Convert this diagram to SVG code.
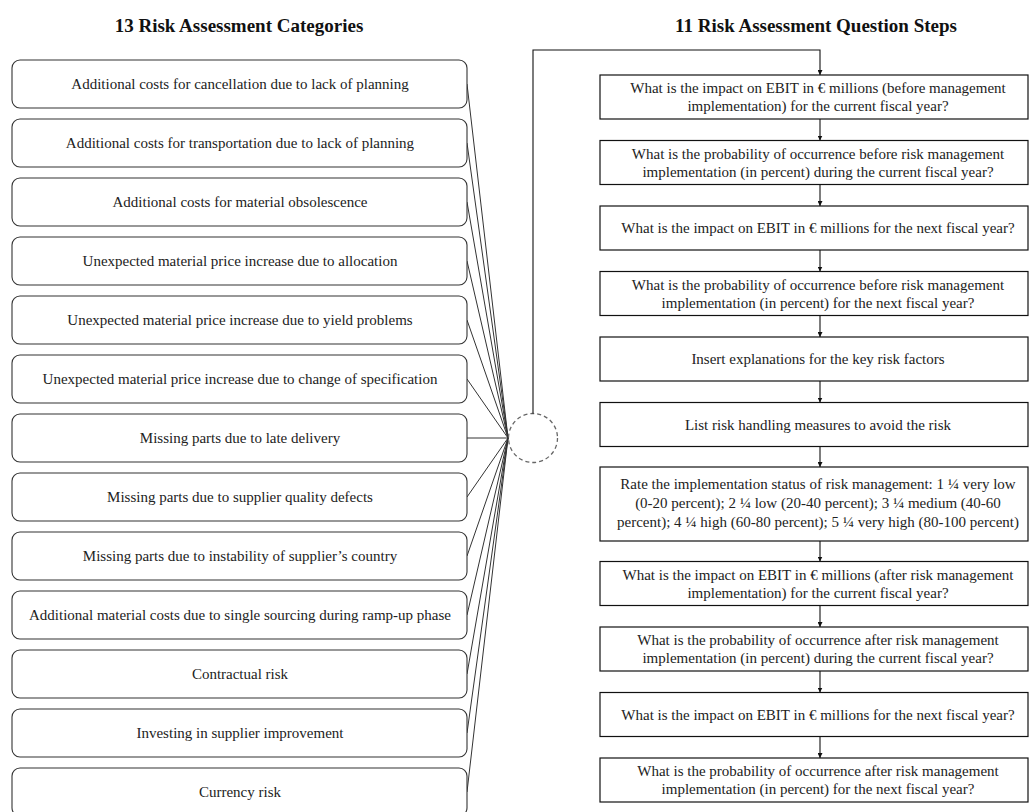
<svg xmlns="http://www.w3.org/2000/svg" width="1030" height="812" viewBox="0 0 1030 812">
  <style>
    .title { font-family: "Liberation Serif", "Times New Roman", serif; font-size: 19px; font-weight: bold; fill: #111; text-anchor: middle; }
    .cat rect { fill: #fff; stroke: #333; stroke-width: 1.1; }
    .step rect { fill: #fff; stroke: #111; stroke-width: 1.2; }
    .lbl { font-family: "Liberation Serif", "Times New Roman", serif; font-size: 15px; fill: #222; text-anchor: middle; }
    .fan { stroke: #333; stroke-width: 1; fill: none; }
    .flow { stroke: #111; stroke-width: 1.1; fill: none; }
    .hub { fill: none; stroke: #666; stroke-width: 1.3; stroke-dasharray: 4 3; }
  </style>
  <defs>
    <marker id="arrow" viewBox="0 0 8 8" refX="8" refY="4" markerWidth="5" markerHeight="5" orient="auto" markerUnits="userSpaceOnUse">
      <path d="M0,0 L8,4 L0,8 z" fill="#111"/>
    </marker>
  </defs>

  <text class="title" x="239" y="32">13 Risk Assessment Categories</text>
  <text class="title" x="816" y="32">11 Risk Assessment Question Steps</text>

  <!-- connectors: category fan-in, loop back to the first step, step chain -->
  <g id="connectors">
    <line class="fan" x1="467" y1="84" x2="508" y2="438"/>
    <line class="fan" x1="467" y1="143" x2="508" y2="438"/>
    <line class="fan" x1="467" y1="202" x2="508" y2="438"/>
    <line class="fan" x1="467" y1="261" x2="508" y2="438"/>
    <line class="fan" x1="467" y1="320" x2="508" y2="438"/>
    <line class="fan" x1="467" y1="379" x2="508" y2="438"/>
    <line class="fan" x1="467" y1="438" x2="508" y2="438"/>
    <line class="fan" x1="467" y1="497" x2="508" y2="438"/>
    <line class="fan" x1="467" y1="556" x2="508" y2="438"/>
    <line class="fan" x1="467" y1="615" x2="508" y2="438"/>
    <line class="fan" x1="467" y1="674" x2="508" y2="438"/>
    <line class="fan" x1="467" y1="733" x2="508" y2="438"/>
    <line class="fan" x1="467" y1="792" x2="508" y2="438"/>
    <circle class="hub" cx="533" cy="438" r="24.5"/>
    <path class="flow" d="M533,413.5 V50 H820 V75" marker-end="url(#arrow)"/>
    <line class="flow" x1="820" y1="119" x2="820" y2="140.5" marker-end="url(#arrow)"/>
    <line class="flow" x1="820" y1="184.5" x2="820" y2="206" marker-end="url(#arrow)"/>
    <line class="flow" x1="820" y1="250" x2="820" y2="271.5" marker-end="url(#arrow)"/>
    <line class="flow" x1="820" y1="315.5" x2="820" y2="337" marker-end="url(#arrow)"/>
    <line class="flow" x1="820" y1="381" x2="820" y2="402.5" marker-end="url(#arrow)"/>
    <line class="flow" x1="820" y1="446.5" x2="820" y2="467" marker-end="url(#arrow)"/>
    <line class="flow" x1="820" y1="541" x2="820" y2="561.5" marker-end="url(#arrow)"/>
    <line class="flow" x1="820" y1="605.5" x2="820" y2="627" marker-end="url(#arrow)"/>
    <line class="flow" x1="820" y1="671" x2="820" y2="692.5" marker-end="url(#arrow)"/>
    <line class="flow" x1="820" y1="736.5" x2="820" y2="758" marker-end="url(#arrow)"/>
  </g>

  <!-- risk categories -->
  <g id="cat1" class="cat"><rect x="12" y="60" width="455" height="48" rx="8"/><text class="lbl" x="240" y="89">Additional costs for cancellation due to lack of planning</text></g>
  <g id="cat2" class="cat"><rect x="12" y="119" width="455" height="48" rx="8"/><text class="lbl" x="240" y="148">Additional costs for transportation due to lack of planning</text></g>
  <g id="cat3" class="cat"><rect x="12" y="178" width="455" height="48" rx="8"/><text class="lbl" x="240" y="207">Additional costs for material obsolescence</text></g>
  <g id="cat4" class="cat"><rect x="12" y="237" width="455" height="48" rx="8"/><text class="lbl" x="240" y="266">Unexpected material price increase due to allocation</text></g>
  <g id="cat5" class="cat"><rect x="12" y="296" width="455" height="48" rx="8"/><text class="lbl" x="240" y="325">Unexpected material price increase due to yield problems</text></g>
  <g id="cat6" class="cat"><rect x="12" y="355" width="455" height="48" rx="8"/><text class="lbl" x="240" y="384">Unexpected material price increase due to change of specification</text></g>
  <g id="cat7" class="cat"><rect x="12" y="414" width="455" height="48" rx="8"/><text class="lbl" x="240" y="443">Missing parts due to late delivery</text></g>
  <g id="cat8" class="cat"><rect x="12" y="473" width="455" height="48" rx="8"/><text class="lbl" x="240" y="502">Missing parts due to supplier quality defects</text></g>
  <g id="cat9" class="cat"><rect x="12" y="532" width="455" height="48" rx="8"/><text class="lbl" x="240" y="561">Missing parts due to instability of supplier’s country</text></g>
  <g id="cat10" class="cat"><rect x="12" y="591" width="455" height="48" rx="8"/><text class="lbl" x="240" y="620">Additional material costs due to single sourcing during ramp-up phase</text></g>
  <g id="cat11" class="cat"><rect x="12" y="650" width="455" height="48" rx="8"/><text class="lbl" x="240" y="679">Contractual risk</text></g>
  <g id="cat12" class="cat"><rect x="12" y="709" width="455" height="48" rx="8"/><text class="lbl" x="240" y="738">Investing in supplier improvement</text></g>
  <g id="cat13" class="cat"><rect x="12" y="768" width="455" height="48" rx="8"/><text class="lbl" x="240" y="797">Currency risk</text></g>

  <!-- question steps -->
  <g id="step1" class="step"><rect x="600" y="75" width="428" height="44"/><text class="lbl" x="818" y="93">What is the impact on EBIT in € millions (before management</text><text class="lbl" x="818" y="111">implementation) for the current fiscal year?</text></g>
  <g id="step2" class="step"><rect x="600" y="140.5" width="428" height="44"/><text class="lbl" x="818" y="158.5">What is the probability of occurrence before risk management</text><text class="lbl" x="818" y="176.5">implementation (in percent) during the current fiscal year?</text></g>
  <g id="step3" class="step"><rect x="600" y="206" width="428" height="44"/><text class="lbl" x="818" y="233">What is the impact on EBIT in € millions for the next fiscal year?</text></g>
  <g id="step4" class="step"><rect x="600" y="271.5" width="428" height="44"/><text class="lbl" x="818" y="289.5">What is the probability of occurrence before risk management</text><text class="lbl" x="818" y="307.5">implementation (in percent) for the next fiscal year?</text></g>
  <g id="step5" class="step"><rect x="600" y="337" width="428" height="44"/><text class="lbl" x="818" y="364">Insert explanations for the key risk factors</text></g>
  <g id="step6" class="step"><rect x="600" y="402.5" width="428" height="44"/><text class="lbl" x="818" y="429.5">List risk handling measures to avoid the risk</text></g>
  <g id="step7" class="step"><rect x="600" y="467" width="428" height="74"/><text class="lbl" x="818" y="489">Rate the implementation status of risk management: 1 ¼ very low</text><text class="lbl" x="818" y="508">(0-20 percent); 2 ¼ low (20-40 percent); 3 ¼ medium (40-60</text><text class="lbl" x="818" y="527">percent); 4 ¼ high (60-80 percent); 5 ¼ very high (80-100 percent)</text></g>
  <g id="step8" class="step"><rect x="600" y="561.5" width="428" height="44"/><text class="lbl" x="818" y="579.5">What is the impact on EBIT in € millions (after risk management</text><text class="lbl" x="818" y="597.5">implementation) for the current fiscal year?</text></g>
  <g id="step9" class="step"><rect x="600" y="627" width="428" height="44"/><text class="lbl" x="818" y="645">What is the probability of occurrence after risk management</text><text class="lbl" x="818" y="663">implementation (in percent) during the current fiscal year?</text></g>
  <g id="step10" class="step"><rect x="600" y="692.5" width="428" height="44"/><text class="lbl" x="818" y="719.5">What is the impact on EBIT in € millions for the next fiscal year?</text></g>
  <g id="step11" class="step"><rect x="600" y="758" width="428" height="44"/><text class="lbl" x="818" y="776">What is the probability of occurrence after risk management</text><text class="lbl" x="818" y="794">implementation (in percent) for the next fiscal year?</text></g>
</svg>
